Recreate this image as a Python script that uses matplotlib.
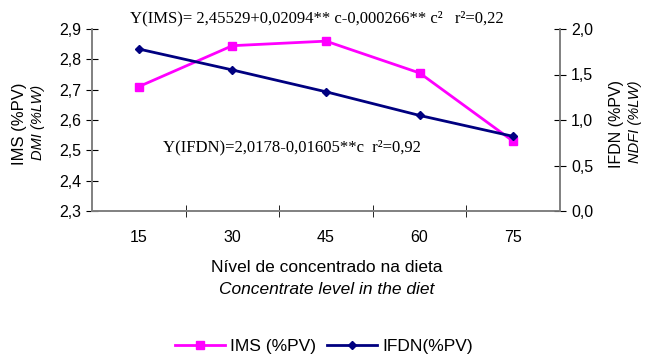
import matplotlib
matplotlib.use("Agg")
import matplotlib.pyplot as plt
from matplotlib.lines import Line2D

categories = ["15", "30", "45", "60", "75"]
ims = [2.71, 2.845, 2.86, 2.755, 2.53]
ifdn = [1.78, 1.55, 1.31, 1.05, 0.82]
left_ticks = [2.3, 2.4, 2.5, 2.6, 2.7, 2.8, 2.9]
left_ticklabels = ["2,3", "2,4", "2,5", "2,6", "2,7", "2,8", "2,9"]
right_ticks = [0.0, 0.5, 1.0, 1.5, 2.0]
right_ticklabels = ["0,0", "0,5", "1,0", "1,5", "2,0"]

plt.rcParams['font.family'] = ['Liberation Sans', 'DejaVu Sans']
fig = plt.figure(figsize=(6.47, 3.55), dpi=100)
ax = fig.add_axes([92/647, 1-211/355, (560-92)/647, (211-29)/355])
ax2 = ax.twinx()

x = list(range(len(categories)))
ax.plot(x, ims, color='#FF00FF', lw=2, marker='s', ms=6, zorder=3)
ax2.plot(x, ifdn, color='#000080', lw=2, marker='D', ms=4.5, zorder=3)

ax.set_xlim(-0.5, len(categories) - 0.5)
ax.set_ylim(2.3, 2.9)
ax2.set_ylim(0, 2.0)
ax.set_yticks(left_ticks)
ax.set_yticklabels(left_ticklabels, fontsize=11.5)
ax2.set_yticks(right_ticks)
ax2.set_yticklabels(right_ticklabels, fontsize=11.5)
ax.set_xticks(x)
ax.set_xticklabels(categories, fontsize=11.5)
ax.set_xticks([i + 0.5 for i in x[:-1]], minor=True)
ax.tick_params(axis='x', which='major', length=0, pad=14)
ax.tick_params(axis='x', which='minor', direction='inout', length=8, color='black')
ax.tick_params(axis='y', direction='inout', length=8, color='black', pad=4)
ax2.tick_params(axis='y', direction='inout', length=8, color='black', pad=4)

for a in (ax, ax2):
    a.spines['top'].set_visible(False)
    for s in ('left', 'right', 'bottom'):
        a.spines[s].set_color('#808080')
        a.spines[s].set_linewidth(1.2)

fig.text(20/647, 1-124/355, "IMS (%PV)", rotation=90, ha='center', va='center', fontsize=12)
fig.text(38/647, 1-122/355, "DMI (%LW)", rotation=90, ha='center', va='center', fontsize=10.5, style='italic')
fig.text(617/647, 1-124/355, "IFDN (%PV)", rotation=90, ha='center', va='center', fontsize=11.5)
fig.text(635/647, 1-122/355, "NDFI (%LW)", rotation=90, ha='center', va='center', fontsize=10.5, style='italic')

fig.text(327/647, 1-268/355, "Nível de concentrado na dieta", ha='center', va='center', fontsize=12.5)
fig.text(327/647, 1-289/355, "Concentrate level in the diet", ha='center', va='center', fontsize=12.5, style='italic')

fig.text(130/647, 1-18/355, "Y(IMS)= 2,45529+0,02094** c-0,000266** c²   r²=0,22",
         ha='left', va='center', fontsize=12, family=['Liberation Serif'])
fig.text(163/647, 1-147/355, "Y(IFDN)=2,0178-0,01605**c  r²=0,92",
         ha='left', va='center', fontsize=12, family=['Liberation Serif'])

handles = [Line2D([], [], color='#FF00FF', lw=2, marker='s', ms=6),
           Line2D([], [], color='#000080', lw=2, marker='D', ms=4.5)]
fig.legend(handles, ["IMS (%PV)", "IFDN(%PV)"], loc='center', bbox_to_anchor=(324/647, 1-346/355),
           ncol=2, frameon=False, fontsize=12.5, handlelength=2.9, columnspacing=0.6, handletextpad=0.3)

fig.savefig("out.png", dpi=100)
